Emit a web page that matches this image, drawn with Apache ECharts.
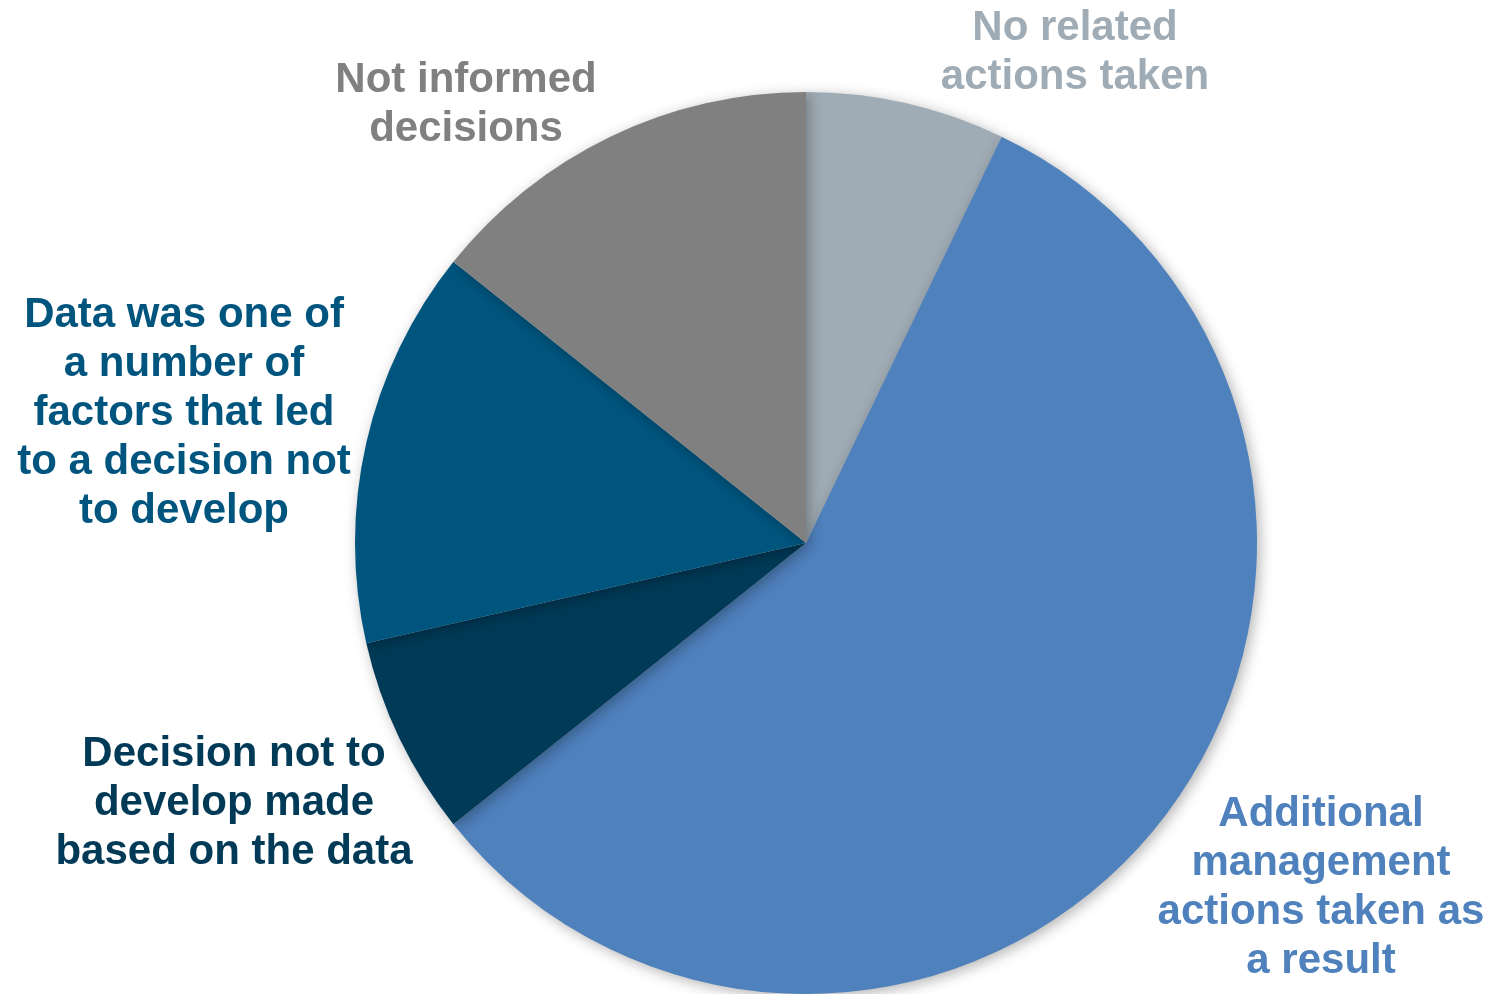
<!DOCTYPE html>
<html>
<head>
<meta charset="utf-8">
<script src="https://cdn.jsdelivr.net/npm/echarts@6/dist/echarts.min.js"></script>
<style>
html,body{margin:0;padding:0;background:#fff;}
#chart{width:1496px;height:994px;}
</style>
</head>
<body>
<div id="chart"></div>
<script>
const categories = [
  "No related\nactions taken",
  "Additional\nmanagement\nactions taken as\na result",
  "Decision not to\ndevelop made\nbased on the data",
  "Data was one of\na number of\nfactors that led\nto a decision not\nto develop",
  "Not informed\ndecisions"
];
const values = [1, 8, 1, 2, 2];
const colors = ["#A0ACB5", "#4F81BD", "#003A57", "#00557F", "#808080"];
const labelPos = [[1075, 53], [1321, 888], [234, 803], [184, 413], [466, 105]];

const chart = echarts.init(document.getElementById('chart'));
chart.setOption({
  animation: false,
  series: [{
    type: 'pie',
    center: [806, 543],
    radius: 451,
    startAngle: 90,
    clockwise: true,
    data: categories.map((c, i) => ({
      name: c, value: values[i],
      itemStyle: { color: colors[i] },
      label: { color: colors[i] }
    })),
    itemStyle: {
      shadowBlur: 14, shadowOffsetX: 3, shadowOffsetY: 3,
      shadowColor: 'rgba(0,0,0,0.3)'
    },
    label: {
      show: true, position: 'outside', formatter: '{b}',
      fontFamily: 'Arial, "Liberation Sans", sans-serif',
      fontWeight: 'bold', fontSize: 42, lineHeight: 49, align: 'center',
      overflow: 'none', width: 600
    },
    labelLine: { show: false },
    labelLayout: function (p) {
      const pos = labelPos[p.dataIndex];
      return { x: pos[0], y: pos[1], align: 'center', verticalAlign: 'middle' };
    },
    emphasis: { disabled: true }
  }]
});
</script>
</body>
</html>
